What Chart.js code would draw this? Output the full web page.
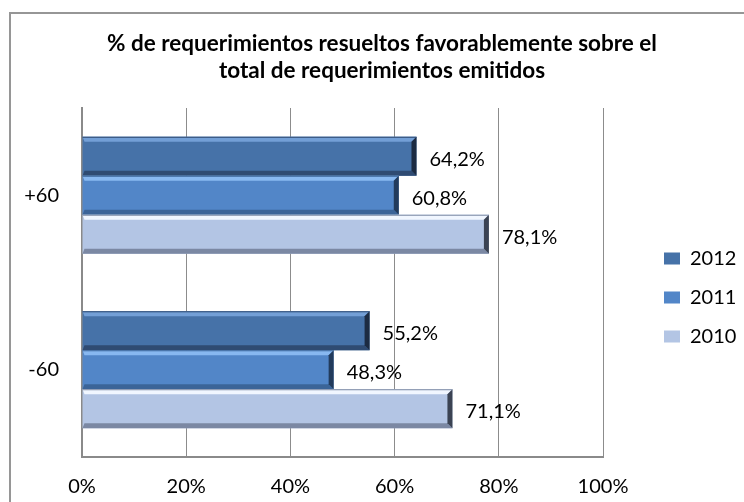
<!DOCTYPE html>
<html>
<head>
<meta charset="utf-8">
<script src="https://cdn.jsdelivr.net/npm/chart.js@4.4.0/dist/chart.umd.min.js"></script>
<style>
  html, body { margin: 0; padding: 0; background: #fff; }
</style>
</head>
<body>
<canvas id="requerimientos" width="744" height="502"></canvas>
<script>
var categories = ['+60', '-60'];
var years = ['2012', '2011', '2010'];
var values2012 = [64.2, 55.2];
var values2011 = [60.8, 48.3];
var values2010 = [78.1, 71.1];
var xTicks = [0, 20, 40, 60, 80, 100];

var titleLines = [
    '% de requerimientos resueltos favorablemente sobre el',
    'total de requerimientos emitidos'
];

// face colour + bevel edges per series (2012, 2011, 2010)
var faceColors = ['#4672a8', '#5286c8', '#b3c5e4'];
var bevelStyles = [
    { light: '#739fd6', dark: '#2f4b72', end: '#1c2b42' },
    { light: '#88b8f0', dark: '#3b6498', end: '#223b5c' },
    { light: '#f0f6ff', dark: '#7b88a3', end: '#3b4353' }
];

var baseFont = { family: "Lato, 'Liberation Sans', sans-serif", size: 20 };

function fmtPct(v) {
    return v.toFixed(1).replace('.', ',') + '%';
}

// outer frame of the chart box
var chartFrame = {
    id: 'chartFrame',
    beforeDraw: function (chart) {
        var ctx = chart.ctx;
        ctx.save();
        ctx.fillStyle = '#fff';
        ctx.fillRect(0, 0, chart.width, chart.height);
        ctx.strokeStyle = '#969696';
        ctx.lineWidth = 2;
        ctx.strokeRect(10, 13, chart.width + 20, chart.height + 20);
        ctx.restore();
    }
};

// bevelled look of the bars
var barBevel = {
    id: 'barBevel',
    afterDatasetsDraw: function (chart) {
        var ctx = chart.ctx;
        chart.data.datasets.forEach(function (ds, i) {
            var st = bevelStyles[i];
            chart.getDatasetMeta(i).data.forEach(function (bar) {
                var p = bar.getProps(['x', 'y', 'base', 'height'], true);
                var l = Math.min(p.base, p.x), r = Math.max(p.base, p.x);
                var t = p.y - p.height / 2, b = p.y + p.height / 2;
                var e = 5;
                ctx.save();
                ctx.fillStyle = st.light;
                ctx.beginPath();
                ctx.moveTo(l, t); ctx.lineTo(r, t); ctx.lineTo(r - e, t + e); ctx.lineTo(l + 2, t + e);
                ctx.closePath(); ctx.fill();
                ctx.fillStyle = st.dark;
                ctx.beginPath();
                ctx.moveTo(l, b); ctx.lineTo(r, b); ctx.lineTo(r - e, b - e); ctx.lineTo(l + 2, b - e);
                ctx.closePath(); ctx.fill();
                ctx.fillStyle = st.end;
                ctx.beginPath();
                ctx.moveTo(r, t); ctx.lineTo(r, b); ctx.lineTo(r - e, b - e); ctx.lineTo(r - e, t + e);
                ctx.closePath(); ctx.fill();
                ctx.strokeStyle = st.dark;
                ctx.lineWidth = 1;
                ctx.beginPath();
                ctx.moveTo(l, t + 0.5); ctx.lineTo(r, t + 0.5);
                ctx.stroke();
                ctx.restore();
            });
        });
    }
};

// value labels right of each bar
var valueLabels = {
    id: 'valueLabels',
    afterDatasetsDraw: function (chart) {
        var ctx = chart.ctx;
        ctx.save();
        ctx.font = baseFont.size + 'px ' + baseFont.family;
        ctx.fillStyle = '#000';
        ctx.textAlign = 'left';
        ctx.textBaseline = 'middle';
        chart.data.datasets.forEach(function (ds, i) {
            chart.getDatasetMeta(i).data.forEach(function (bar, j) {
                ctx.fillText(fmtPct(ds.data[j]), bar.x + 13, bar.y + 3);
            });
        });
        ctx.restore();
    }
};

// push the legend off the plot to where it sits in the original
var legendNudge = {
    id: 'legendNudge',
    afterLayout: function (chart) {
        var lg = chart.legend;
        lg.left += 42; lg.right += 42;
        lg.top += 15; lg.bottom += 15;
    }
};

var seriesValues = [values2012, values2011, values2010];

var ctx = document.getElementById('requerimientos').getContext('2d');

var chart = new Chart(ctx, {
    type: 'bar',
    data: {
        labels: categories,
        datasets: years.map(function (y, i) {
            return {
                label: y,
                data: seriesValues[i],
                backgroundColor: faceColors[i],
                borderWidth: 0,
                categoryPercentage: 0.67,
                barPercentage: 1.0
            };
        })
    },
    options: {
        indexAxis: 'y',
        responsive: false,
        animation: false,
        layout: { padding: { left: 20, right: 0, top: 0, bottom: 0 } },
        plugins: {
            title: {
                display: true,
                text: titleLines,
                color: '#000',
                font: { family: baseFont.family, size: 22.5, weight: 'bold', lineHeight: 1.2 },
                padding: { top: 30, bottom: 24 }
            },
            legend: {
                position: 'right',
                fullSize: false,
                align: 'center',
                labels: {
                    boxWidth: 16,
                    boxHeight: 12,
                    padding: 19,
                    color: '#000',
                    font: baseFont
                }
            },
            tooltip: { enabled: false }
        },
        scales: {
            x: {
                min: 0,
                max: 100,
                afterBuildTicks: function (s) {
                    s.ticks = xTicks.map(function (v) { return { value: v }; });
                },
                afterFit: function (s) {
                    s.height = 45;
                    s.paddingRight = 141;
                },
                ticks: {
                    padding: 18,
                    color: '#000',
                    font: baseFont,
                    callback: function (v) { return v + '%'; }
                },
                grid: { color: '#8c8c8c', lineWidth: 1, drawTicks: false },
                border: { color: '#8a8a8a', width: 2 }
            },
            y: {
                afterFit: function (s) { s.width = 62; },
                ticks: { padding: 23, color: '#000', font: baseFont },
                grid: { display: false, drawTicks: false },
                border: { color: '#8a8a8a', width: 2 }
            }
        }
    },
    plugins: [chartFrame, barBevel, valueLabels, legendNudge]
});
</script>
</body>
</html>
